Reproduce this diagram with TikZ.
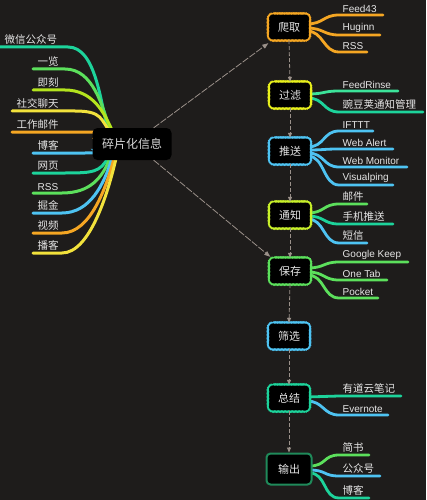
\documentclass[tikz,border=0pt]{standalone}
\usepackage{fontspec}
\setmainfont{Liberation Sans}
\newfontfamily\cjk{Noto Sans CJK SC}
\usetikzlibrary{decorations.pathmorphing,arrows.meta,calc}
\definecolor{bgc}{HTML}{1E1C1B}
\definecolor{txt}{HTML}{E6E6E6}
\definecolor{corange}{HTML}{F5A623}
\definecolor{cyellow}{HTML}{F2E23C}
\definecolor{cfyellow}{HTML}{E8F01C}
\definecolor{clime}{HTML}{B4E41E}
\definecolor{cnlime}{HTML}{C8F02A}
\definecolor{cgreen}{HTML}{5CE05C}
\definecolor{cfgreen}{HTML}{3CE39A}
\definecolor{cteal}{HTML}{1DD39B}
\definecolor{cblue}{HTML}{4EC3F2}
\definecolor{cdkgreen}{HTML}{1F8A5A}
\definecolor{carrow}{HTML}{9B918A}
\pgfdeclarelayer{bgl}
\pgfdeclarelayer{mid}
\pgfsetlayers{bgl,mid,main}
\newcommand\zh[1]{{\cjk\fontsize{10.5}{12}\selectfont #1}}
\tikzset{
  lbl/.style={anchor=south west, inner sep=0.5pt, text=txt, font=\fontsize{10}{12}\selectfont},
  lbranch/.style={line width=3pt, line cap=round},
  rbranch/.style={line width=2.8pt, line cap=round},
  stepnode/.style={minimum width=41pt, minimum height=26pt, inner sep=0pt,
     text=txt, font=\cjk\fontsize{11}{13}\selectfont},
  cloudline/.style={fill=black, line width=1.5pt,
     decoration={bumps, amplitude=0.75pt, segment length=2.8pt}},
  outnode/.style={draw=cdkgreen, line width=2pt, fill=black, minimum width=45pt, minimum height=31pt,
     inner sep=0pt, rounded corners=4pt, text=txt, font=\cjk\fontsize{11}{13}\selectfont},
  infobox/.style={fill=black, rounded corners=5pt, minimum width=79pt, minimum height=32pt,
     inner sep=0pt, text=txt!85!gray, font=\cjk\fontsize{12}{14}\selectfont},
  flow/.style={draw=carrow, line width=0.8pt, dash pattern=on 4pt off 2pt, -{Triangle[length=5pt,width=4pt]}},
  flowlong/.style={draw=carrow, line width=0.8pt, dash pattern=on 7pt off 1.5pt, -{Triangle[length=6pt,width=4.5pt]}}
}
% left branch: name, y, xstart, xend, colour, text, target, second control
\newcommand\lbr[8]{%
  \coordinate (#1s) at (#3,#2);
  \coordinate (#1e) at (#4,#2);
  \node[lbl] (#1) at ($(#1s)+(4,-1.5)$) {#6};
  \begin{pgfonlayer}{mid}
  \draw[lbranch, draw=#5] (#1s) -- (#1e) .. controls ($(#1e)+(28,0)$) and #8 .. #7;
  \end{pgfonlayer}
}
% right branch: parent, name, y, xend, colour, text, start offset
\newcommand\rbr[7]{%
  \coordinate (#2s) at (339,#3);
  \coordinate (#2e) at (#4,#3);
  \node[lbl] (#2) at ($(#2s)+(3,-1.5)$) {#6};
  \begin{pgfonlayer}{mid}
  \draw[rbranch, draw=#5] ($(#1.east)+(-3,#7)$) .. controls ($(#1.east)+(14,#7)$) and ($(#2s)+(-16,0)$) .. (#2s) -- (#2e);
  \end{pgfonlayer}
}
% wavy rounded border round a step node
\newcommand\cloudbox[2]{%
  \begin{pgfonlayer}{mid}
  \filldraw[cloudline, draw=#2] decorate {
    ($(#1.north west)+(5,0)$) -- ($(#1.north east)+(-5,0)$)
    .. controls ($(#1.north east)+(-2.2,0)$) and ($(#1.north east)+(0,2.2)$) .. ($(#1.north east)+(0,5)$)
    -- ($(#1.south east)+(0,-5)$)
    .. controls ($(#1.south east)+(0,-2.2)$) and ($(#1.south east)+(-2.2,0)$) .. ($(#1.south east)+(-5,0)$)
    -- ($(#1.south west)+(5,0)$)
    .. controls ($(#1.south west)+(2.2,0)$) and ($(#1.south west)+(0,-2.2)$) .. ($(#1.south west)+(0,-5)$)
    -- ($(#1.north west)+(0,5)$)
    .. controls ($(#1.north west)+(0,2.2)$) and ($(#1.north west)+(2.2,0)$) .. ($(#1.north west)+(5.2,0)$)
  };
  \end{pgfonlayer}
}
\begin{document}
\begin{tikzpicture}[x=1pt,y=-1pt]
\begin{pgfonlayer}{bgl}
\fill[bgc] (0,0) rectangle (426,500);
\end{pgfonlayer}
\useasboundingbox (0,0) rectangle (426,500);

% centre
\node[infobox] (info) at (132,144) {碎片化信息};

% left branches
\lbr{l1}{47}{0}{68}{cteal}{\zh{微信公众号}}{($(info.north west)+(16,3)$)}{($(info.north west)+(8,-25)$)}
\lbr{l2}{69}{33}{65}{cgreen}{\zh{一览}}{($(info.north west)+(18,3)$)}{($(info.north west)+(10,-22)$)}
\lbr{l3}{90}{33}{65}{clime}{\zh{即刻}}{($(info.north west)+(20,3)$)}{($(info.north west)+(12,-15)$)}
\lbr{l4}{111}{12}{75}{cyellow}{\zh{社交聊天}}{($(info.north west)+(18,4)$)}{($(info.north west)+(8,-8)$)}
\lbr{l5}{132}{12}{85}{corange}{\zh{工作邮件}}{($(info.west)+(4,-6)$)}{($(info.west)+(-4,-6)$)}
\lbr{l6}{153}{33}{85}{cblue}{\zh{博客}}{($(info.west)+(4,6)$)}{($(info.west)+(-4,6)$)}
\lbr{l7}{173}{33}{65}{cteal}{\zh{网页}}{($(info.south west)+(16,-3)$)}{($(info.south west)+(8,12)$)}
\lbr{l8}{193}{33}{62}{cgreen}{RSS}{($(info.south west)+(18,-3)$)}{($(info.south west)+(10,18)$)}
\lbr{l9}{213}{33}{62}{cblue}{\zh{掘金}}{($(info.south west)+(20,-3)$)}{($(info.south west)+(12,24)$)}
\lbr{l10}{233}{33}{62}{corange}{\zh{视频}}{($(info.south west)+(22,-3)$)}{($(info.south west)+(14,28)$)}
\lbr{l11}{253}{33}{62}{cyellow}{\zh{播客}}{($(info.south west)+(24,-3)$)}{($(info.south west)+(16,32)$)}

% right column steps
\node[stepnode] (crawl) at (289,27) {爬取};
\node[stepnode] (filter) at (290,95) {过滤};
\node[stepnode] (push) at (290,151) {推送};
\node[stepnode] (notify) at (290,215) {通知};
\node[stepnode] (save) at (290,271) {保存};
\node[stepnode] (screen) at (289,336) {筛选};
\node[stepnode] (sum) at (289,398) {总结};
\node[outnode] (out) at (289,469) {输出};

% dashed flow
\draw[flow] (crawl.south) -- (filter.north);
\draw[flow] (filter.south) -- (push.north);
\draw[flow] (push.south) -- (notify.north);
\draw[flow] (notify.south) -- (save.north);
\draw[flow] (save.south) -- (screen.north);
\draw[flow] (screen.south) -- (sum.north);
\draw[flow] (sum.south) -- (out.north);
\draw[flowlong] ($(info.north east)+(-18,0)$) -- ($(crawl.south west)+(0,3)$);
\draw[flowlong] ($(info.south east)+(-18,0)$) -- ($(save.north west)+(1,-1)$);

% right branches
\rbr{crawl}{c1}{15}{383}{corange}{Feed43}{-3}
\rbr{crawl}{c2}{35}{380}{corange}{Huginn}{1}
\rbr{crawl}{c3}{52}{367}{corange}{RSS}{4}
\rbr{filter}{f1}{91}{398}{cfgreen}{FeedRinse}{-1}
\rbr{filter}{f2}{112}{423}{cteal}{\zh{豌豆荚通知管理}}{3}
\rbr{push}{p1}{131}{373}{cblue}{IFTTT}{-4}
\rbr{push}{p2}{149}{393}{cblue}{Web Alert}{-1}
\rbr{push}{p3}{167}{407}{cblue}{Web Monitor}{2}
\rbr{push}{p4}{185}{393}{cblue}{Visualping}{5}
\rbr{notify}{n1}{204}{367}{cgreen}{\zh{邮件}}{-2}
\rbr{notify}{n2}{224}{393}{cteal}{\zh{手机推送}}{1}
\rbr{notify}{n3}{243}{367}{cblue}{\zh{短信}}{4}
\rbr{save}{s1}{262}{408}{cgreen}{Google Keep}{-3}
\rbr{save}{s2}{280}{387}{cgreen}{One Tab}{1}
\rbr{save}{s3}{298}{378}{cgreen}{Pocket}{4}
\rbr{sum}{u1}{396}{401}{cteal}{\zh{有道云笔记}}{-1}
\rbr{sum}{u2}{415}{388}{cblue}{Evernote}{3}
\rbr{out}{o1}{455}{369}{cgreen}{\zh{简书}}{-3}
\rbr{out}{o2}{476}{380}{cblue}{\zh{公众号}}{1}
\rbr{out}{o3}{498}{369}{cteal}{\zh{博客}}{4}

% wavy borders
\cloudbox{crawl}{corange}
\cloudbox{filter}{cfyellow}
\cloudbox{push}{cblue}
\cloudbox{notify}{cnlime}
\cloudbox{save}{cgreen}
\cloudbox{screen}{cblue}
\cloudbox{sum}{cteal}
\end{tikzpicture}
\end{document}
